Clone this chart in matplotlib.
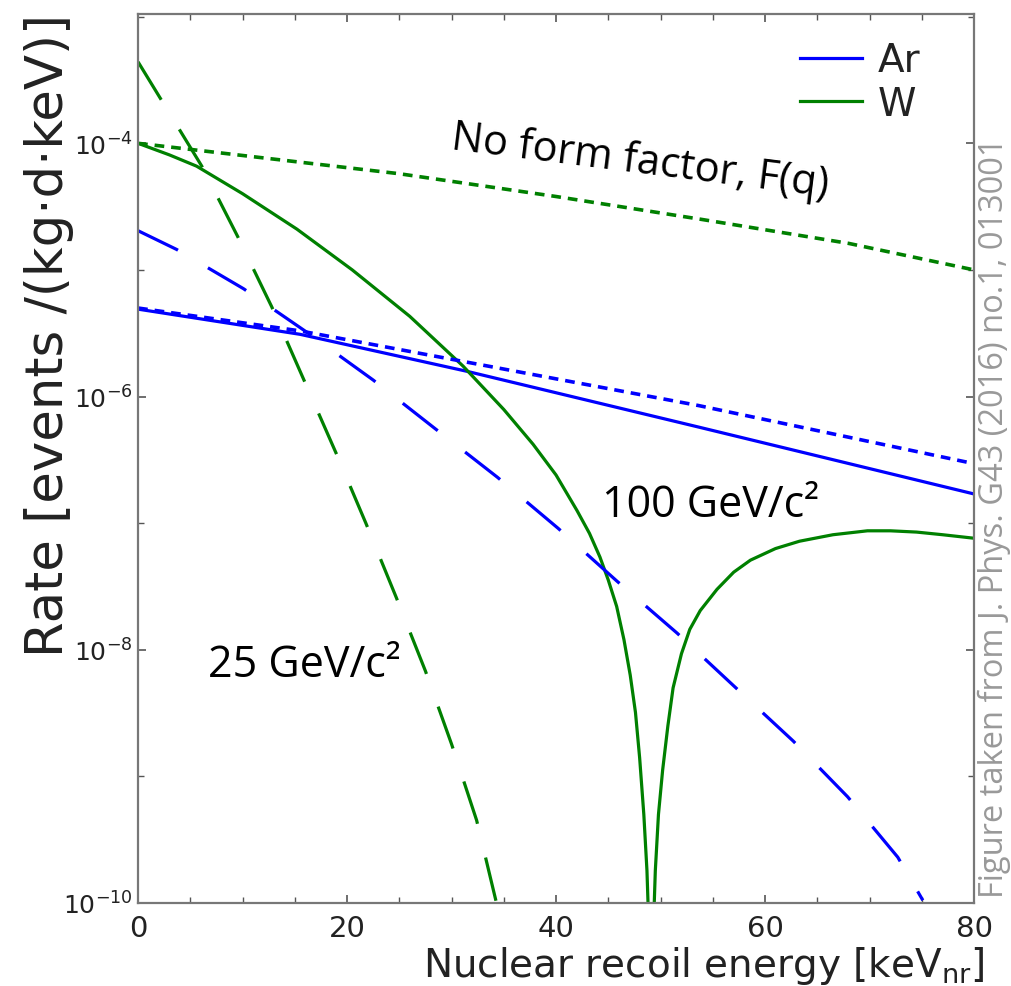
import numpy as np
import matplotlib
matplotlib.use('Agg')
import matplotlib.pyplot as plt
from matplotlib.ticker import FixedLocator, NullFormatter

plt.rcParams['lines.scale_dashes'] = False

# recoil energies [keV_nr] and rates [events/(kg d keV)]
# argon, 100 GeV/c2, with form factor
ar100_e = [0, 15.5, 31.5, 53.6, 80]
ar100_r = [4.9e-6, 3.1e-6, 1.58e-6, 5.75e-7, 1.7e-7]
# argon, no form factor
ar_noff_e = [0, 15.5, 53.6, 80]
ar_noff_r = [5.0e-6, 3.3e-6, 8.5e-7, 2.95e-7]
# argon, 25 GeV/c2
ar25_e = [0, 3.7, 10.1, 16.2, 22.5, 28.4, 34.4, 40.2, 45.8, 51.6, 57.1, 62.7, 67.9, 72.7, 75.1]
ar25_r = [2.04e-5, 1.45e-5, 7.1e-6, 3.2e-6, 1.35e-6, 5.6e-7, 2.3e-7, 9.1e-8,
          3.5e-8, 1.35e-8, 5.1e-9, 1.9e-9, 6.9e-10, 2.3e-10, 1.05e-10]

# tungsten, 100 GeV/c2, with form factor (zero of F(q) near 49 keV)
w100_e = [0, 3, 5.6, 10, 15.2, 20.5, 26.0, 31.1, 35.0, 37.8, 40.0, 42.0, 43.2, 44.2,
          45.0, 45.8, 46.5, 47.1, 47.6, 48.0, 48.4, 48.7, 49.0, 49.1,
          49.2, 49.5, 49.8, 50.2, 50.7, 51.2, 52.0, 52.8, 53.8, 55.4, 57.0, 58.6,
          61.0, 63.3, 66.5, 69.8, 72.0, 74.5, 77.0, 80]
w100_r = [1.0e-4, 8.1e-5, 6.6e-5, 4.0e-5, 2.1e-5, 1.0e-5, 4.3e-6, 1.74e-6, 7.9e-7,
          4.2e-7, 2.4e-7, 1.26e-7, 8.3e-8, 5.4e-8,
          3.55e-8, 2.2e-8, 1.2e-8, 6.3e-9, 3.2e-9, 1.4e-9, 5.0e-10, 1.8e-10, 3.2e-11, 1e-11,
          3.2e-11, 1.8e-10, 5.0e-10, 1.12e-9, 2.5e-9, 5.0e-9, 9.3e-9, 1.45e-8, 2.04e-8,
          3.0e-8, 4.1e-8, 5.1e-8,
          6.3e-8, 7.2e-8, 8.1e-8, 8.7e-8, 8.7e-8, 8.5e-8, 8.1e-8, 7.6e-8]
# tungsten, no form factor
w_noff_e = [0, 25, 40, 54, 68, 80]
w_noff_r = [1.0e-4, 5.75e-5, 3.8e-5, 2.5e-5, 1.62e-5, 1.0e-5]
# tungsten, 25 GeV/c2
w25_e = [0, 6.1, 9.5, 12.8, 19.0, 21.8, 24.7, 27.5, 30.0, 32.4, 34.3]
w25_r = [4.4e-4, 6.6e-5, 1.86e-5, 5.1e-6, 3.5e-7, 1.0e-7, 2.6e-8, 6.8e-9,
         1.8e-9, 4.5e-10, 1.0e-10]

blue = '#0000ff'
green = '#008000'
long_dash = (0, (32, 25))
short_dash = (0, (7, 5))

fig = plt.figure(figsize=(10.12, 9.87), dpi=100)
ax = fig.add_axes([0.1364, 0.0841, 0.9625 - 0.1364, 0.9848 - 0.0841])

ax.plot(ar100_e, ar100_r, color=blue, lw=2.3, label='Ar')
ax.plot(w100_e, w100_r, color=green, lw=2.3, label='W')
ax.plot(ar_noff_e, ar_noff_r, color=blue, lw=2.6, linestyle=short_dash)
ax.plot(w_noff_e, w_noff_r, color=green, lw=2.6, linestyle=short_dash)
ax.plot(ar25_e, ar25_r, color=blue, lw=2.3, linestyle=long_dash)
ax.plot(w25_e, w25_r, color=green, lw=2.3, linestyle=long_dash)

ax.set_yscale('log')
ax.set_xlim(0, 80)
ax.set_ylim(1e-10, 1.05e-3)

ax.xaxis.set_major_locator(FixedLocator([0, 20, 40, 60, 80]))
ax.xaxis.set_minor_locator(FixedLocator(np.arange(0, 81, 5)))
ax.yaxis.set_major_locator(FixedLocator([1e-10, 1e-8, 1e-6, 1e-4]))
ax.yaxis.set_minor_locator(FixedLocator([1e-9, 1e-7, 1e-5, 1e-3]))
ax.yaxis.set_minor_formatter(NullFormatter())
ax.set_yticklabels([r'$10^{-10}$', r'$10^{-8}$', r'$10^{-6}$', r'$10^{-4}$'])

ax.tick_params(which='both', direction='in', top=True, right=True, color='#555555')
ax.tick_params(which='major', length=6, width=1.2)
ax.tick_params(which='minor', length=4, width=1.0)
ax.tick_params(axis='x', labelsize=21, labelcolor='#222222', pad=8)
ax.tick_params(axis='y', labelsize=18, labelcolor='#222222', pad=4)
for s in ax.spines.values():
    s.set_color('#777777')
    s.set_linewidth(1.6)

ax.set_xlabel(r'Nuclear recoil energy [keV$_{\mathrm{nr}}$]', fontsize=28, color='#222222')
ax.xaxis.set_label_coords(0.677, -0.046)
ax.set_ylabel('Rate [events /(kg·d·keV)]', fontsize=37, color='#222222')
ax.yaxis.set_label_coords(-0.077, 0.64)

leg = ax.legend(loc='upper right', frameon=False, fontsize=28, handlelength=1.6,
                handletextpad=0.4, labelspacing=0.15, borderaxespad=0.3,
                bbox_to_anchor=(0.968, 1.0))
for t in leg.get_texts():
    t.set_color('#222222')

ann_font = ['Open Sans', 'DejaVu Sans']
ax.text(0.374, 0.849, 'No form factor, F(q)', transform=ax.transAxes, fontsize=30,
        family=ann_font, rotation=-7.2, rotation_mode='anchor', ha='left', va='baseline')
ax.text(0.555, 0.435, '100 GeV/c²', transform=ax.transAxes, fontsize=31,
        family=ann_font, ha='left', va='baseline')
ax.text(0.084, 0.255, '25 GeV/c²', transform=ax.transAxes, fontsize=31,
        family=ann_font, ha='left', va='baseline')

fig.text(0.983, 0.475, 'Figure taken from J. Phys. G43 (2016) no.1, 013001', rotation=90,
         ha='center', va='center', fontsize=23.5, color='#999999', family=ann_font)

fig.savefig('out.png', dpi=100)
